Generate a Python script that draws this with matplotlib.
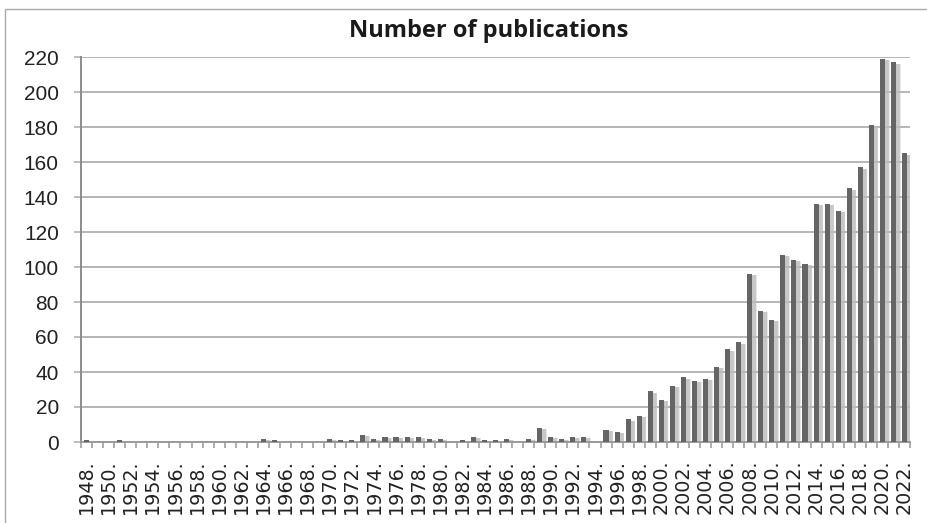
import matplotlib
matplotlib.use("Agg")
import matplotlib.pyplot as plt
from matplotlib.patches import Rectangle
import numpy as np

# Publications per year, 1948-2022
years = list(range(1948, 2023))
counts = [
    1, 0, 0, 1, 0, 0, 0, 0, 0, 0,        # 1948-1957
    0, 0, 0, 0, 0, 0, 2, 1, 0, 0,        # 1958-1967
    0, 0, 2, 1, 1, 4, 2, 3, 3, 3,        # 1968-1977
    3, 2, 2, 0, 1, 3, 1, 1, 2, 0,        # 1978-1987
    2, 8, 3, 2, 3, 3, 0, 7, 6, 13,       # 1988-1997
    15, 29, 24, 32, 37, 35, 36, 43, 53, 57,   # 1998-2007
    96, 75, 70, 107, 104, 102, 136, 136, 132, 145,  # 2008-2017
    157, 181, 219, 217, 165,             # 2018-2022
]
tick_labels = [f"{y}." for y in years]
title = "Number of publications"
y_ticks = list(range(0, 221, 20))

W, H, DPI = 928, 523, 100
fig = plt.figure(figsize=(W / DPI, H / DPI), dpi=DPI)
fig.patch.set_facecolor("white")

# outer chart frame (only top and left edges fall inside the canvas)
fig.add_artist(Rectangle((5 / W, -0.5), 2.0, 0.5 + 1 - 9 / H,
                         transform=fig.transFigure, fill=False,
                         edgecolor="#a9a9a9", linewidth=1.0))

left, right = 81 / W, 910 / W
bottom, top = (H - 442) / H, (H - 57) / H
ax = fig.add_axes([left, bottom, right - left, top - bottom])

x = np.arange(len(years))
bar_w = 0.46

# soft drop shadow behind each bar
shadow_h = np.maximum(np.array(counts) - 0.8, 0)
for dx, a in [(0.30, 0.35), (0.36, 0.6), (0.42, 0.35)]:
    ax.bar(x + dx, shadow_h, width=bar_w,
           color="#bcbcbc", alpha=a, linewidth=0, zorder=2)
ax.bar(x, counts, width=bar_w, color="#656565", linewidth=0, zorder=3)

ax.set_xlim(-0.5, len(years) - 0.5)
ax.set_ylim(0, 220)

# grid
ax.set_yticks(y_ticks)
ax.yaxis.grid(True, color="#b0b0b0", linewidth=1.3, zorder=0)
ax.set_axisbelow(True)
ax.set_yticklabels([str(v) for v in y_ticks], family="Liberation Sans",
                   fontsize=15, color="#222222")
ax.tick_params(axis="y", length=5, width=1.2, color="#b0b0b0", pad=11)

# category boundaries carry the tick marks; labels on every other year
ax.set_xticks(np.arange(-0.5, len(years), 1.0))
ax.set_xticklabels([])
ax.tick_params(axis="x", which="major", length=4.5, width=1.2,
               color="#a0a0a0")
ax.set_xticks(x[::2], minor=True)
ax.set_xticklabels(tick_labels[::2], minor=True, rotation=90,
                   family="DejaVu Sans", fontsize=13.8, color="#222222")
ax.tick_params(axis="x", which="minor", length=0, pad=12.5)

for side in ("top", "right"):
    ax.spines[side].set_visible(False)
ax.spines["left"].set_color("#8c8c8c")
ax.spines["left"].set_linewidth(1.4)
ax.spines["bottom"].set_color("#9a9a9a")
ax.spines["bottom"].set_linewidth(1.4)

fig.text(489 / W, 1 - 31 / H, title, ha="center", va="center",
         family="Open Sans", fontweight="bold", fontsize=17,
         color="#1a1a1a")

fig.savefig("out.png", dpi=DPI, facecolor="white")
